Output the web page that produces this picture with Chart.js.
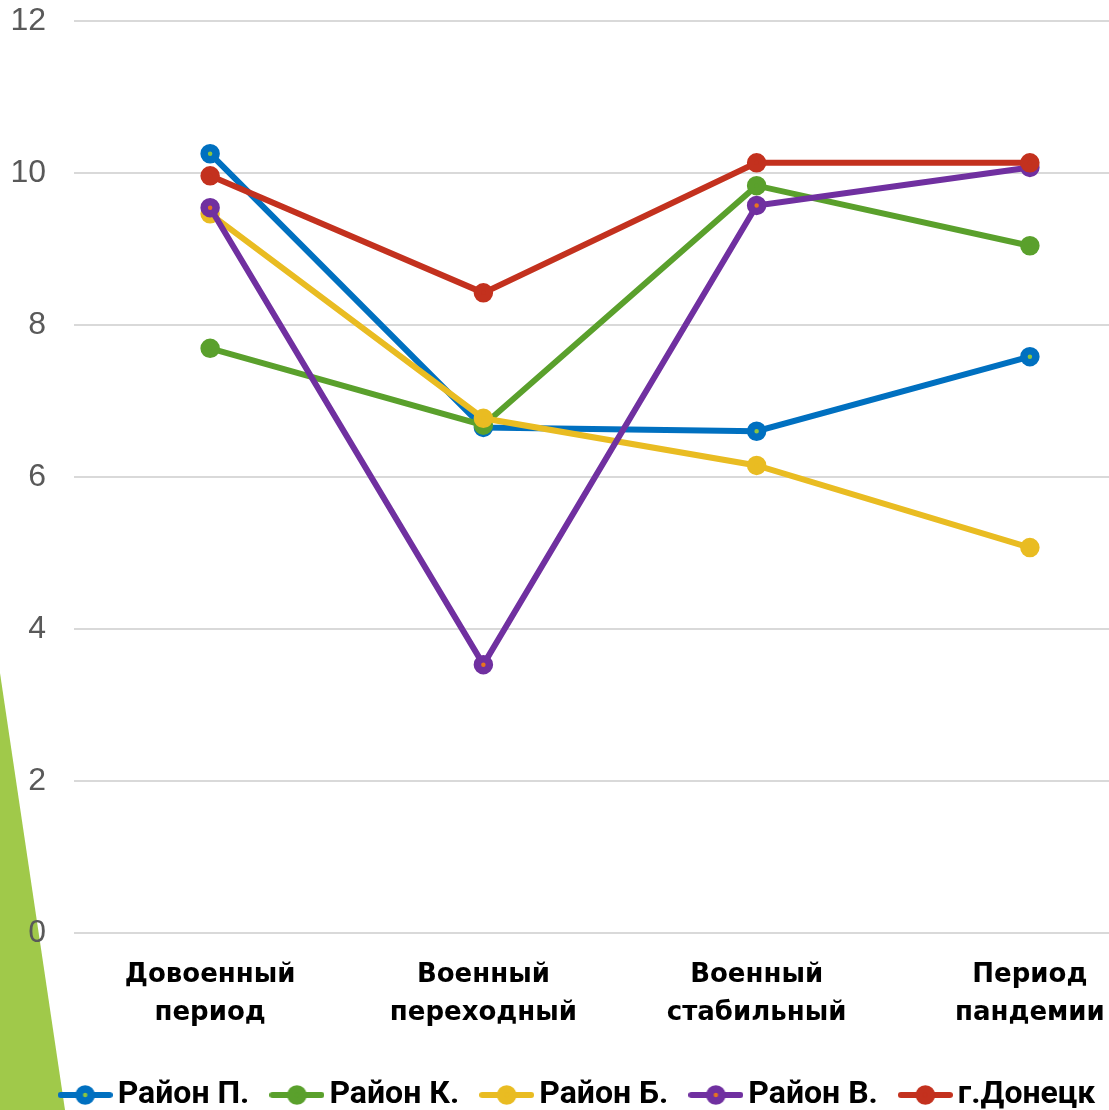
<!DOCTYPE html>
<html>
<head>
<meta charset="utf-8">
<script src="https://cdn.jsdelivr.net/npm/chart.js@4"></script>
<style>
  html, body { margin: 0; padding: 0; background: #fff; overflow: hidden; width: 1109px; height: 1110px; }
  #wedge { position: absolute; left: 0; top: 0; width: 80px; height: 1110px; background: #A0C94A;
           clip-path: polygon(0 673px, 65px 1110px, 0 1110px); }
  #wrap { position: absolute; left: -16px; top: -26px; }
</style>
</head>
<body>
<div id="wedge"></div>
<div id="wrap"><canvas id="chart" width="1196" height="1147"></canvas></div>
<script>
// Periods on the category axis (two-line labels)
const periods = [
  ['Довоенный', 'период'],
  ['Военный', 'переходный'],
  ['Военный', 'стабильный'],
  ['Период', 'пандемии']
];

// Series names
const seriesNames = ['Район П.', 'Район К.', 'Район Б.', 'Район В.', 'г.Донецк'];

// Values per period
const rayonP   = [10.25, 6.65, 6.60, 7.58];
const rayonK   = [7.69, 6.68, 9.83, 9.04];
const rayonB   = [9.46, 6.77, 6.15, 5.07];
const rayonV   = [9.54, 3.53, 9.57, 10.07];
const donetsk  = [9.96, 8.42, 10.13, 10.13];

// Y axis range
const yMin = 0, yMax = 12, yStep = 2;

// Colours: line colour and centre dot colour
const lineColors = ['#0070C0', '#5AA02C', '#E9BC22', '#7030A0', '#C3311E'];
const dotColors  = ['#8DC63F', '#5AA02C', '#E9BC22', '#E8741F', '#C3311E'];

const seriesValues = [rayonP, rayonK, rayonB, rayonV, donetsk];
const drawOrder = [5, 4, 3, 2, 1];

// Legend symbol: short line with a marker in the middle
function legendSymbol(line, dot) {
  const c = document.createElement('canvas');
  c.width = 55; c.height = 24;
  const g = c.getContext('2d');
  g.strokeStyle = line; g.lineWidth = 6; g.lineCap = 'round';
  g.beginPath(); g.moveTo(3, 12); g.lineTo(52, 12); g.stroke();
  g.beginPath(); g.arc(27.5, 12, 6, 0, Math.PI * 2);
  g.fillStyle = dot; g.fill();
  g.lineWidth = 7.5; g.strokeStyle = line; g.stroke();
  return c;
}

const datasets = seriesNames.map((name, i) => ({
  label: name,
  data: seriesValues[i],
  borderColor: lineColors[i],
  backgroundColor: lineColors[i],
  borderWidth: 6,
  pointRadius: 6,
  pointBorderWidth: 7.5,
  pointBorderColor: lineColors[i],
  pointBackgroundColor: dotColors[i],
  pointHoverRadius: 6,
  tension: 0,
  order: drawOrder[i]
}));

new Chart(document.getElementById('chart'), {
  type: 'line',
  data: { labels: periods, datasets },
  options: {
    responsive: false,
    animation: false,
    layout: { padding: { top: 20, left: 0, right: 0, bottom: 0 } },
    plugins: {
      title: { display: false },
      tooltip: { enabled: false },
      legend: {
        position: 'bottom',
        labels: {
          usePointStyle: true,
          pointStyleWidth: 33,
          padding: 31,
          color: '#000',
          font: { family: 'Roboto', size: 32, weight: 'bold' },
          generateLabels: (chart) => chart.data.datasets.map((ds, i) => ({
            text: ds.label,
            datasetIndex: i,
            pointStyle: legendSymbol(lineColors[i], dotColors[i]),
            fillStyle: lineColors[i],
            strokeStyle: lineColors[i],
            lineWidth: 0,
            hidden: false,
            fontColor: '#000'
          }))
        }
      }
    },
    scales: {
      x: {
        offset: true,
        grid: { display: false },
        border: { display: false },
        afterFit: (scale) => { scale.height = 115; },
        ticks: {
          color: '#000',
          padding: 15,
          maxRotation: 0,
          font: { family: 'DejaVu Sans', size: 26, weight: 'bold', lineHeight: 1.46 }
        }
      },
      y: {
        min: yMin, max: yMax,
        grid: { color: '#D9D9D9', lineWidth: 2, drawTicks: false },
        border: { display: false },
        afterFit: (scale) => { scale.width = 89.5; },
        ticks: {
          stepSize: yStep,
          color: '#595959',
          padding: 27.5,
          font: { family: 'Liberation Sans', size: 32 }
        }
      }
    }
  }
});
</script>
</body>
</html>
